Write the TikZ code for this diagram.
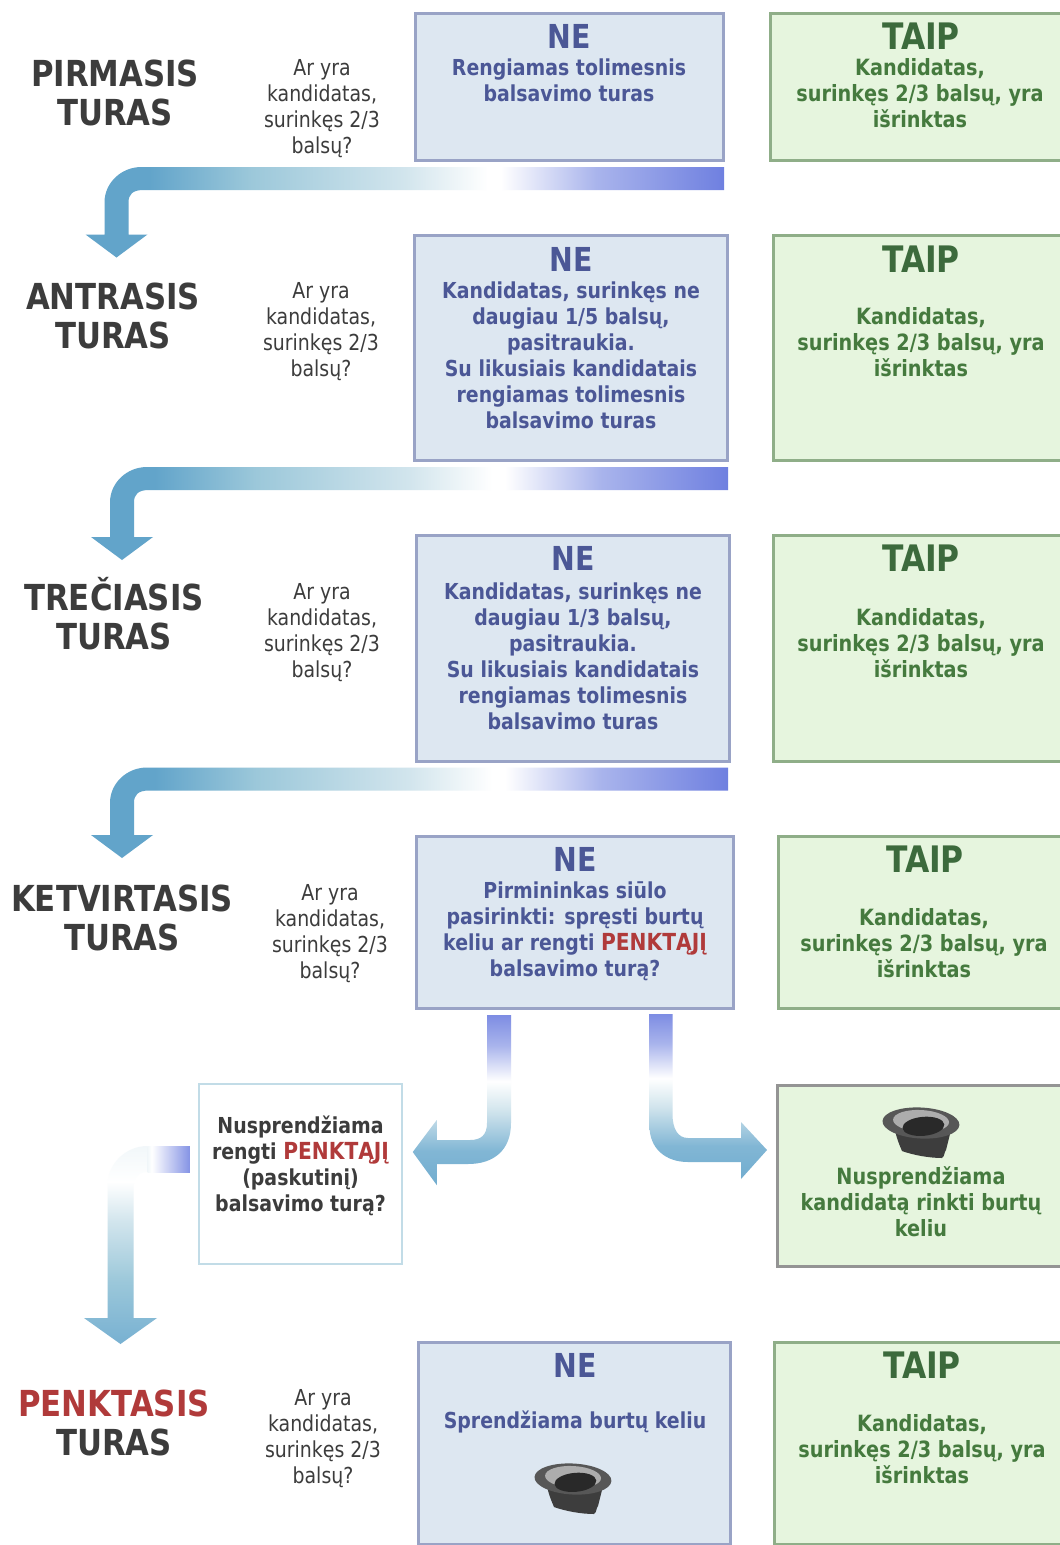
\documentclass[tikz,border=0pt]{standalone}
\usepackage{fontspec}
\setmainfont{DejaVu Sans}[FakeStretch=0.86]
\usetikzlibrary{calc}
\definecolor{nefill}{HTML}{DDE7F1}
\definecolor{neline}{HTML}{99A3C6}
\definecolor{netext}{HTML}{4B5796}
\definecolor{yesfill}{HTML}{E6F5DE}
\definecolor{yesline}{HTML}{8FAE88}
\definecolor{yestitle}{HTML}{3C6A3C}
\definecolor{yestext}{HTML}{457A3E}
\definecolor{redtext}{HTML}{B03A3A}
\definecolor{darktext}{HTML}{3C3C3C}
\definecolor{peri}{HTML}{6F80E0}
\definecolor{periB}{HTML}{A9B4EC}
\definecolor{flow}{HTML}{62A4CA}
\definecolor{flowB}{HTML}{9CC8DA}
\definecolor{flowC}{HTML}{D2E5ED}
\newcommand{\redword}[1]{\textcolor{redtext}{\fontsize{23.5}{26}\selectfont #1}}
\pgfdeclarehorizontalshading{barshade}{100bp}{color(0bp)=(flow); color(30bp)=(flow); color(38bp)=(flowB); color(50bp)=(flowC); color(56.5bp)=(white); color(57.5bp)=(white); color(65bp)=(periB); color(75bp)=(peri); color(100bp)=(peri)}
\pgfdeclareverticalshading{dropshade}{100bp}{color(0bp)=(flow!90!white); color(25bp)=(flow!90!white); color(35bp)=(flow!80!white); color(47bp)=(flowC); color(55.5bp)=(white); color(66bp)=(periB); color(75bp)=(peri!90!white); color(100bp)=(peri)}
\pgfdeclareverticalshading{fallshade}{100bp}{color(0bp)=(flow!85!white); color(26bp)=(flow!85!white); color(41bp)=(flowB); color(56bp)=(flowC); color(66bp)=(white); color(75bp)=(flowC!30!white); color(100bp)=(flowC!30!white)}
\pgfdeclarehorizontalshading{stubshade}{100bp}{color(0bp)=(white); color(25bp)=(flowC!30!white); color(30bp)=(white); color(75bp)=(peri!85!white); color(100bp)=(peri)}
\tikzset{
  x=1pt,y=-1pt,
  nebox/.style={draw=neline,fill=nefill,line width=3pt,minimum width=#1,inner sep=0pt,outer sep=0pt},
  yesbox/.style={draw=yesline,fill=yesfill,line width=3pt,minimum width=#1,inner sep=0pt,outer sep=0pt},
  heading/.style={font=\bfseries\fontsize{35.8}{39}\selectfont,text=darktext,align=center,inner sep=0pt},
  question/.style={font=\fontsize{22}{26}\selectfont,text=darktext,align=center,inner sep=0pt},
  netitle/.style={font=\bfseries\fontsize{33}{33}\selectfont,text=netext,inner sep=0pt},
  yestitle/.style={font=\bfseries\fontsize{36.5}{33}\selectfont,text=yestitle,inner sep=0pt},
  netxt/.style={font=\bfseries\fontsize{22}{26}\selectfont,text=netext,align=center,inner sep=0pt},
  yestxt/.style={font=\bfseries\fontsize{22.4}{26}\selectfont,text=yestext,align=center,inner sep=0pt},
  hat/.pic={
    \fill[black!76] (-26,8) .. controls (-24,18) and (-21,24) .. (-19,29) .. controls (-8,33) and (8,36) .. (21,36) .. controls (24,34) and (23,30) .. (25,28) -- (30,8) -- cycle;
    \fill[rotate=-3,black!66] (0,1) ellipse [x radius=38.5,y radius=15.5];
    \fill[rotate=-3,black!32] (0,-1) ellipse [x radius=28,y radius=11];
    \fill[rotate=5,black!84] (2,4.5) ellipse [x radius=21,y radius=9.5];
  }
}
% #1 start coordinate, #2 tip coordinate: bar running left, then dropping to the tip
\newcommand{\elbowshape}[2]{%
  \shade[shading=barshade]
    ($(#1)+(0,-11.5)$) -- ($(#2|-#1)+(25,-11.5)$)
    .. controls ($(#2|-#1)+(5,-11.5)$) and ($(#2|-#1)+(-12,4)$) .. ($(#2|-#1)+(-12,24)$)
    -- ($(#2)+(-12,-23)$) -- ($(#2)+(-31,-23)$) -- (#2) -- ($(#2)+(31,-23)$) -- ($(#2)+(12,-23)$)
    -- ($(#2|-#1)+(12,24)$) .. controls ($(#2|-#1)+(12,16)$) and ($(#2|-#1)+(16,11.5)$) .. ($(#2|-#1)+(27,11.5)$)
    -- ($(#1)+(0,11.5)$) -- cycle;}
\begin{document}
\begin{tikzpicture}
\clip (0,0) rectangle (1060,1545);
\fill[white] (0,0) rectangle (1060,1545);
% boxes
\node[nebox=308pt,minimum height=147pt] (ne1) at (569,86.5) {};
\node[yesbox=296pt,minimum height=147pt] (yes1) at (918,86.5) {};
\node[nebox=313pt,minimum height=225pt] (ne2) at (570.5,347.5) {};
\node[yesbox=296pt,minimum height=225pt] (yes2) at (921,347.5) {};
\node[nebox=313pt,minimum height=226pt] (ne3) at (572.5,648) {};
\node[yesbox=296pt,minimum height=226pt] (yes3) at (921,648) {};
\node[nebox=317pt,minimum height=172pt] (ne4) at (574.5,922) {};
\node[yesbox=290pt,minimum height=172pt] (yes4) at (923,922) {};
\node[draw=flowC!70!flowB,fill=white,line width=1.5pt,minimum width=203pt,minimum height=180pt,inner sep=0pt,outer sep=0pt] (ask) at (300.25,1174) {};
\node[draw=black!42,fill=yesfill,line width=3pt,minimum width=290pt,minimum height=181pt,inner sep=0pt,outer sep=0pt] (lots) at (922,1175.5) {};
\node[nebox=312pt,minimum height=202pt] (ne5) at (574,1443) {};
\node[yesbox=296pt,minimum height=202pt] (yes5) at (922,1443) {};
% headings
\node[heading] (h1) at (115,93) {PIRMASIS\\TURAS};
\node[heading] (h2) at (113,316) {ANTRASIS\\TURAS};
\node[heading] (h3) at (114,614) {TREČIASIS\\TURAS};
\node[heading] (h4) at (122,918) {KETVIRTASIS\\TURAS};
\node[heading] (h5) at (114,1423) {\textcolor{redtext}{PENKTASIS}\\TURAS};
% questions
\node[question] (q1) at (322,108.5) {Ar yra\\kandidatas,\\surinkęs 2/3\\balsų?};
\node[question] (q2) at (321,331.5) {Ar yra\\kandidatas,\\surinkęs 2/3\\balsų?};
\node[question] (q3) at (322,632.5) {Ar yra\\kandidatas,\\surinkęs 2/3\\balsų?};
\node[question] (q4) at (330,933.5) {Ar yra\\kandidatas,\\surinkęs 2/3\\balsų?};
\node[question] (q5) at (323,1438.5) {Ar yra\\kandidatas,\\surinkęs 2/3\\balsų?};
% NE column
\node[netitle] (net1) at (569,36) {NE};
\node[netxt] (nex1) at (569,80) {Rengiamas tolimesnis\\balsavimo turas};
\node[netitle] (net2) at (571,259) {NE};
\node[netxt] (nex2) at (571,355.5) {Kandidatas, surinkęs ne\\daugiau 1/5 balsų,\\pasitraukia.\\Su likusiais kandidatais\\rengiamas tolimesnis\\balsavimo turas};
\node[netitle] (net3) at (573,558) {NE};
\node[netxt] (nex3) at (573,656) {Kandidatas, surinkęs ne\\daugiau 1/3 balsų,\\pasitraukia.\\Su likusiais kandidatais\\rengiamas tolimesnis\\balsavimo turas};
\node[netitle] (net4) at (575,859) {NE};
\node[netxt] (nex4) at (575,931) {Pirmininkas siūlo\\pasirinkti: spręsti burtų\\keliu ar rengti \redword{PENKTĄJĮ}\\balsavimo turą?};
\node[netitle] (net5) at (575,1365) {NE};
\node[netxt] (nex5) at (575,1422) {Sprendžiama burtų keliu};
\pic at (573,1478) {hat};
% TAIP column
\node[yestitle] (yt1) at (921,36) {TAIP};
\node[yestxt] (yx1) at (920,93) {Kandidatas,\\surinkęs 2/3 balsų, yra\\išrinktas};
\node[yestitle] (yt2) at (921,259) {TAIP};
\node[yestxt] (yx2) at (921,342) {Kandidatas,\\surinkęs 2/3 balsų, yra\\išrinktas};
\node[yestitle] (yt3) at (921,558) {TAIP};
\node[yestxt] (yx3) at (921,643) {Kandidatas,\\surinkęs 2/3 balsų, yra\\išrinktas};
\node[yestitle] (yt4) at (925,859) {TAIP};
\node[yestxt] (yx4) at (924,943) {Kandidatas,\\surinkęs 2/3 balsų, yra\\išrinktas};
\node[yestitle] (yt5) at (922,1365) {TAIP};
\node[yestxt] (yx5) at (922,1449) {Kandidatas,\\surinkęs 2/3 balsų, yra\\išrinktas};
% middle row
\node[font=\bfseries\fontsize{22}{26}\selectfont,text=darktext,align=center,inner sep=0pt] (askt) at (300.5,1166) {Nusprendžiama\\rengti \redword{PENKTĄJĮ}\\(paskutinį)\\balsavimo turą?};
\pic at (921,1122) {hat};
\node[yestxt] (lotst) at (921,1202) {Nusprendžiama\\kandidatą rinkti burtų\\keliu};
% arrows
\coordinate (s1) at ($(ne1.south east)+(1,18.5)$);
\coordinate (t1) at (116.5,257.5);
\elbowshape{s1}{t1}
\coordinate (s2) at ($(ne2.south east)+(1,18.5)$);
\coordinate (t2) at (122,560);
\elbowshape{s2}{t2}
\coordinate (s3) at ($(ne3.south east)+(-1,18)$);
\coordinate (t3) at (122,858);
\elbowshape{s3}{t3}
% NE4 to ask
\coordinate (s4) at ($(ne4.south west)+(83,7)$);
\coordinate (t4) at ($(ask.east)+(11,-22)$);
\shade[shading=dropshade]
  ($(s4)+(-12,0)$) -- ($(s4)+(-12,108)$) .. controls ($(s4)+(-12,120)$) and ($(s4)+(-18,125)$) .. ($(s4)+(-29,125)$)
  -- ($(t4)+(24,-12)$) -- ($(t4)+(24,-32)$) -- (t4) -- ($(t4)+(24,33)$) -- ($(t4)+(24,12)$)
  -- ($(s4)+(-31,149)$) .. controls ($(s4)+(-5,149)$) and ($(s4)+(12,135)$) .. ($(s4)+(12,108)$)
  -- ($(s4)+(12,0)$) -- cycle;
% NE4 to lots
\coordinate (s5) at ($(ne4.south east)+(-72,6)$);
\coordinate (t5) at ($(lots.west)+(-10,-25.5)$);
\shade[shading=dropshade]
  ($(s5)+(-11.5,0)$) -- ($(s5)+(-11.5,112)$) .. controls ($(s5)+(-11.5,135)$) and ($(s5)+(5,148)$) .. ($(s5)+(27,148)$)
  -- ($(t5)+(-26,12)$) -- ($(t5)+(-26,29)$) -- (t5) -- ($(t5)+(-26,-28)$) -- ($(t5)+(-26,-12)$)
  -- ($(s5)+(27,124)$) .. controls ($(s5)+(17,124)$) and ($(s5)+(11.5,115)$) .. ($(s5)+(11.5,100)$)
  -- ($(s5)+(11.5,0)$) -- cycle;
% ask to round five
\coordinate (s6) at ($(ask.west)+(-9,-15)$);
\coordinate (t6) at (120.5,1344);
\shade[shading=fallshade]
  ($(t6|-s6)+(27,-13)$) .. controls ($(t6|-s6)+(5,-13)$) and ($(t6|-s6)+(-13,5)$) .. ($(t6|-s6)+(-13,26)$)
  -- ($(t6)+(-13,-26)$) -- ($(t6)+(-36.5,-26)$) -- (t6) -- ($(t6)+(36.5,-26)$) -- ($(t6)+(13,-26)$)
  -- ($(t6|-s6)+(13,30)$) .. controls ($(t6|-s6)+(13,19)$) and ($(t6|-s6)+(17,13)$) .. ($(t6|-s6)+(27,13)$) -- cycle;
\shade[shading=stubshade] ($(t6|-s6)+(27,-13)$) rectangle ($(s6)+(0,13)$);
\end{tikzpicture}
\end{document}
